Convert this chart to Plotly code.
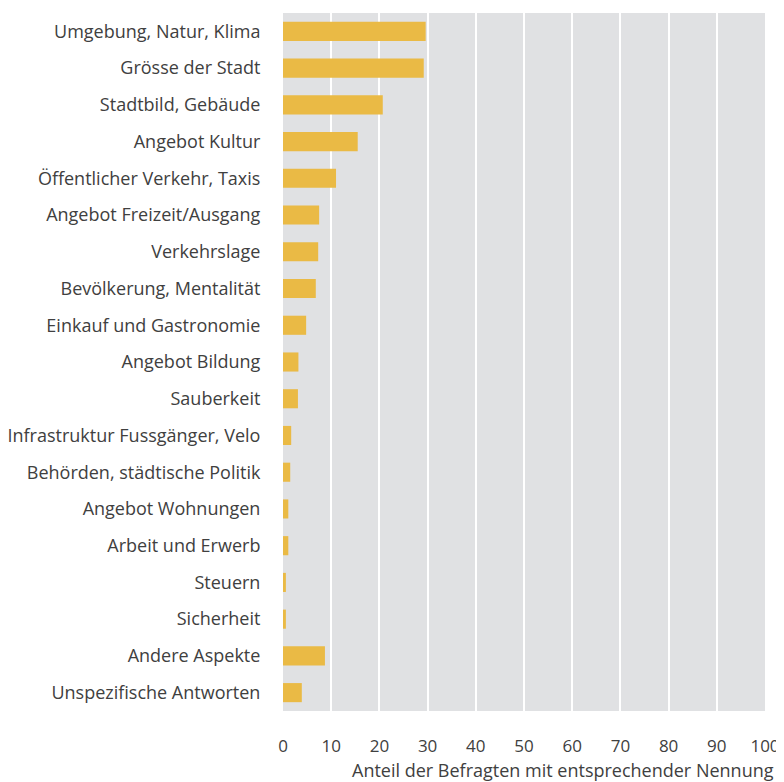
import plotly.graph_objects as go

categories = [
    "Umgebung, Natur, Klima",
    "Grösse der Stadt",
    "Stadtbild, Gebäude",
    "Angebot Kultur",
    "Öffentlicher Verkehr, Taxis",
    "Angebot Freizeit/Ausgang",
    "Verkehrslage",
    "Bevölkerung, Mentalität",
    "Einkauf und Gastronomie",
    "Angebot Bildung",
    "Sauberkeit",
    "Infrastruktur Fussgänger, Velo",
    "Behörden, städtische Politik",
    "Angebot Wohnungen",
    "Arbeit und Erwerb",
    "Steuern",
    "Sicherheit",
    "Andere Aspekte",
    "Unspezifische Antworten",
]
values = [29.6, 29.2, 20.7, 15.5, 11.0, 7.5, 7.3, 6.8, 4.8, 3.2, 3.1, 1.7, 1.5, 1.1, 1.1, 0.6, 0.6, 8.7, 3.9]
x_ticks = [0, 10, 20, 30, 40, 50, 60, 70, 80, 90, 100]
x_title = "Anteil der Befragten mit entsprechender Nennung"

font_family = "Open Sans, Lato, sans-serif"
text_color = "#404040"
fsize = 18

fig = go.Figure(
    go.Bar(
        x=values,
        y=categories,
        orientation="h",
        marker=dict(color="#eaba45", line=dict(width=0)),
        width=0.52,
        hoverinfo="x+y",
    )
)

fig.update_layout(
    width=776,
    height=774,
    margin=dict(l=275, r=19, t=5, b=71),
    paper_bgcolor="white",
    plot_bgcolor="#e0e1e3",
    font=dict(family=font_family, size=fsize, color=text_color),
    showlegend=False,
    bargap=0.48,
)

fig.update_xaxes(
    range=[0, 100],
    tickvals=x_ticks,
    ticktext=[str(v) for v in x_ticks],
    showgrid=True,
    gridcolor="white",
    gridwidth=2,
    zeroline=False,
    showline=False,
    ticks="outside",
    ticklen=20,
    tickcolor="rgba(0,0,0,0)",
    tickfont=dict(size=17, color=text_color),
    automargin=False,
    fixedrange=True,
)

fig.update_yaxes(
    categoryorder="array",
    categoryarray=categories,
    autorange="reversed",
    showgrid=False,
    zeroline=False,
    showline=False,
    ticks="outside",
    ticklen=18,
    tickcolor="rgba(0,0,0,0)",
    tickfont=dict(size=fsize, color=text_color),
    automargin=False,
    fixedrange=True,
)

fig.add_annotation(
    text=x_title,
    xref="paper",
    yref="paper",
    x=1.023,
    y=0,
    yshift=-59,
    xanchor="right",
    yanchor="middle",
    showarrow=False,
    font=dict(size=fsize, color=text_color, family=font_family),
)

fig.write_html("out.html")
